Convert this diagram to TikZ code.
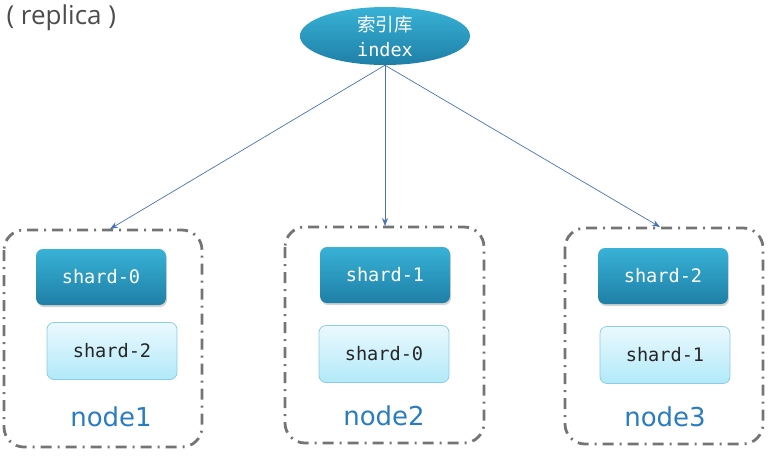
\documentclass[tikz,border=0pt]{standalone}
\usepackage{fontspec}
\setmainfont{DejaVu Sans}
\newfontfamily\monof{DejaVu Sans Mono}
\newfontfamily\titlef{Open Sans}
\newfontfamily\cjkf{Noto Sans CJK SC}
\usetikzlibrary{shapes.geometric,shadows,arrows.meta}
\definecolor{darktop}{HTML}{38B2D6}
\definecolor{darkbot}{HTML}{1F7FA6}
\definecolor{lighttop}{HTML}{EAF9FE}
\definecolor{lightbot}{HTML}{B2E9F9}
\definecolor{lightedge}{HTML}{8CCDE3}
\definecolor{framegray}{HTML}{747474}
\definecolor{arrowblue}{HTML}{4A72B8}
\definecolor{labelblue}{HTML}{2A7CC0}
\tikzset{
  darkshard/.style={rectangle, rounded corners=7pt, top color=darktop, bottom color=darkbot,
    draw=none, minimum width=130pt, minimum height=56pt, text=white, font=\monof\fontsize{18.6}{22}\selectfont,
    drop shadow={shadow xshift=1pt, shadow yshift=-2pt, opacity=0.35}},
  lightshard/.style={rectangle, rounded corners=7pt, top color=lighttop, bottom color=lightbot,
    draw=lightedge, line width=0.8pt, minimum width=130pt, minimum height=57pt, text=black!85,
    font=\monof\fontsize{18.6}{22}\selectfont},
  hostbox/.style={draw=framegray, line width=2.8pt, dash pattern=on 11pt off 6pt on 2pt off 6pt,
    rounded corners=20pt},
  hostlabel/.style={text=labelblue, font=\fontsize{26}{30}\selectfont},
  link/.style={draw=arrowblue, line width=0.7pt, -{Stealth[length=8pt,width=6pt]}}
}
\begin{document}
\begin{tikzpicture}[x=1pt,y=-1pt]
\useasboundingbox (0,0) rectangle (771,456);
\node[anchor=west, text=black!70, font=\titlef\fontsize{26}{30}\selectfont] (title) at (3,18) {( replica )};
\node[ellipse, minimum width=170pt, minimum height=58pt, top color=darktop, bottom color=darkbot,
  draw=none, inner sep=0pt, align=center, text=white, font=\fontsize{18.5}{25}\selectfont] (idx) at (385,36)
  {{\cjkf 索引库}\\{\monof index}};
% host frames
\draw[hostbox] (4,230) rectangle (202,447);
\draw[hostbox] (285,227) rectangle (484,443);
\draw[hostbox] (565,228) rectangle (763,444);
\coordinate (h1) at (110,229);
\coordinate (h2) at (385,226);
\coordinate (h3) at (660,227);
% shards
\node[darkshard] (s10) at (101,277) {shard-0};
\node[lightshard] (s12) at (112,351) {shard-2};
\node[darkshard] (s21) at (385,275) {shard-1};
\node[lightshard] (s20) at (384,354) {shard-0};
\node[darkshard] (s32) at (663,276) {shard-2};
\node[lightshard] (s31) at (665,355) {shard-1};
% labels
\node[hostlabel] (n1) at (111,417) {node1};
\node[hostlabel] (n2) at (384,416) {node2};
\node[hostlabel] (n3) at (665,417) {node3};
% links
\draw[link] (idx.south) -- (h1);
\draw[link] (idx.south) -- (h2);
\draw[link] (idx.south) -- (h3);
\end{tikzpicture}
\end{document}
